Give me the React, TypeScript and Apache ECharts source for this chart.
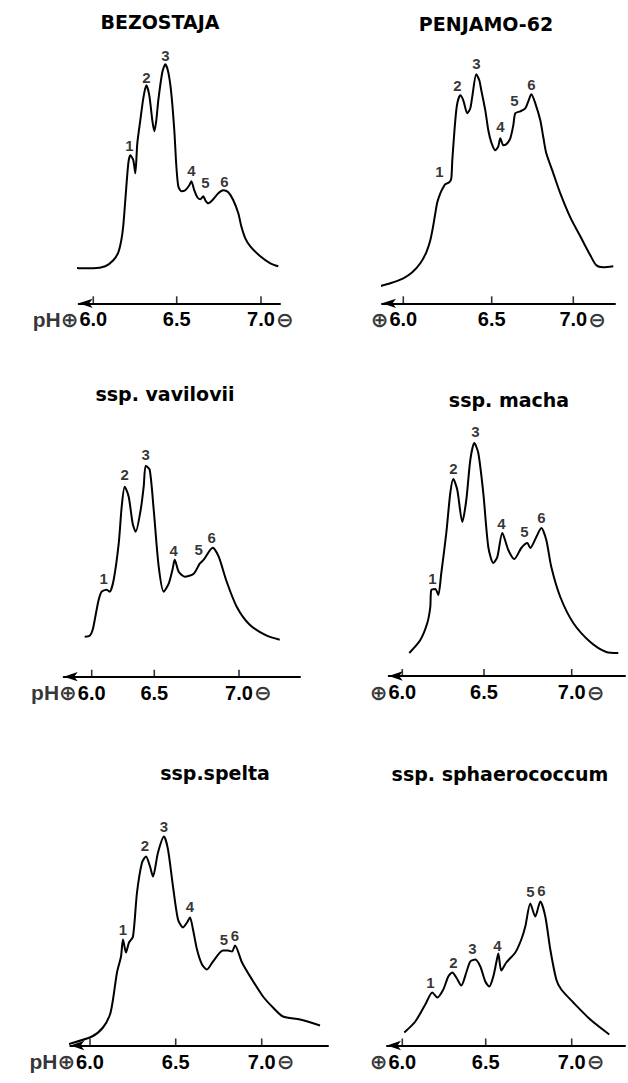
import React, { useEffect, useRef } from 'react';
import * as echarts from 'echarts';

// Titles, tick labels and peak names
const panelTitles = ['BEZOSTAJA', 'PENJAMO-62', 'ssp. vavilovii', 'ssp. macha', 'ssp.spelta', 'ssp. sphaerococcum'];
const tickLabels = ['6.0', '6.5', '7.0'];
const peakNames = ['1', '2', '3', '4', '5', '6'];
const anodeLabelLeft = 'pH⊕';
const anodeLabelRight = '⊕';
const cathodeLabel = '⊖';

// Scan position (a.u., relative to the pH 6.0 marker) of the pH markers 6.0 / 6.5 / 7.0
const bezMarkers = [0, 83.4, 167.7];
const penMarkers = [0, 88.4, 170];
const vavMarkers = [0, 62.6, 147.3];
const machaMarkers = [0, 81.7, 169.4];
const speltaMarkers = [0, 85.7, 171.7];
const sphaeroMarkers = [0, 83.4, 169.4];

// Densitometer traces: [scan position, absorbance (a.u.)]
const bezTrace = [[-27, 37], [-13, 35], [0, 35], [12, 37], [20, 43], [25, 51], [28, 63], [30, 78], [32, 103], [35, 140], [37, 148], [40, 143], [42, 130], [44, 160], [47, 183], [50, 205], [53, 218], [56, 208], [59, 183], [61, 172], [63, 183], [65, 203], [69, 231], [72, 239], [75, 231], [78, 210], [81, 173], [83, 138], [85, 117], [88, 112], [92, 113], [96, 118], [98, 122], [101, 113], [104, 106], [107, 104], [110, 107], [112, 103], [115, 100], [119, 103], [125, 110], [130, 113], [135, 111], [140, 103], [145, 90], [148, 77], [152, 65], [157, 57], [167, 47], [177, 40], [185, 37]];
const penTrace = [[-24, 17], [-13, 20], [0, 25], [9, 31], [17, 40], [23, 51], [27, 63], [30, 78], [32, 90], [34, 101], [37, 110], [40, 116], [42, 119], [46, 121], [48, 125], [49, 143], [52, 183], [54, 200], [57, 208], [60, 203], [64, 190], [67, 195], [69, 207], [73, 229], [76, 223], [78, 213], [82, 193], [85, 173], [88, 161], [92, 153], [95, 157], [97, 165], [100, 158], [103, 159], [107, 165], [110, 178], [112, 190], [117, 192], [122, 195], [125, 202], [128, 209], [132, 200], [137, 183], [140, 166], [143, 150], [150, 130], [157, 110], [167, 86], [177, 67], [187, 48], [193, 38], [200, 36], [210, 37]];
const vavTrace = [[-7, 40], [-2, 41], [1, 47], [4, 62], [7, 77], [10, 85], [15, 87], [18, 85], [22, 97], [27, 133], [30, 170], [33, 190], [37, 180], [41, 153], [44, 145], [49, 167], [52, 190], [54, 211], [58, 207], [62, 167], [67, 110], [72, 85], [77, 93], [81, 108], [83, 117], [87, 105], [93, 100], [102, 103], [108, 113], [112, 117], [121, 129], [127, 120], [135, 95], [145, 70], [158, 52], [175, 41], [188, 37]];
const machaTrace = [[7, 23], [18, 36], [25, 53], [28, 69], [29, 86], [33, 87], [36, 81], [39, 103], [44, 143], [48, 183], [51, 197], [55, 186], [60, 154], [64, 176], [68, 216], [72, 233], [76, 223], [81, 183], [86, 129], [91, 113], [95, 119], [100, 143], [106, 126], [112, 117], [119, 128], [125, 133], [128, 128], [134, 139], [139, 148], [144, 136], [149, 109], [158, 79], [171, 53], [188, 34], [204, 24], [216, 23]];
const speltaTrace = [[-23, 1], [2, 9], [13, 18], [20, 31], [23, 46], [27, 73], [31, 89], [33, 106], [36, 93], [39, 103], [43, 109], [47, 153], [52, 183], [56, 189], [60, 179], [63, 169], [68, 193], [74, 209], [78, 196], [83, 159], [88, 126], [93, 118], [97, 123], [100, 128], [103, 116], [107, 96], [112, 81], [117, 76], [123, 84], [133, 95], [138, 95], [142, 94], [145, 100], [152, 83], [162, 66], [173, 49], [183, 38], [193, 29], [210, 26], [230, 20]];
const sphaeroTrace = [[2, 13], [13, 24], [23, 41], [30, 53], [35, 48], [41, 56], [46, 69], [50, 73], [54, 68], [59, 60], [64, 73], [68, 84], [73, 86], [78, 79], [83, 64], [87, 59], [91, 69], [94, 83], [96, 92], [99, 75], [104, 83], [113, 93], [119, 106], [123, 119], [128, 142], [133, 129], [138, 144], [143, 129], [148, 96], [154, 66], [159, 56], [171, 43], [188, 26], [207, 11]];

// Peak number label positions [scan position, absorbance]
const bezPeaks = [[36, 158], [53, 226], [72, 248], [98, 133], [112, 121], [131, 122]];
const penPeaks = [[36, 132], [54, 218], [73, 240], [97, 177], [111, 203], [128, 219]];
const vavPeaks = [[12, 98], [33, 202], [54, 222], [82, 126], [107, 127], [120, 139]];
const machaPeaks = [[30, 98], [51, 208], [73, 245], [99, 153], [122, 145], [139, 159]];
const speltaPeaks = [[33, 116], [55, 200], [74, 219], [100, 139], [134, 106], [145, 110]];
const sphaeroPeaks = [[28, 63], [51, 83], [70, 97], [95, 100], [128, 154], [139, 155]];

const panelData = [
  { trace: bezTrace, peaks: bezPeaks, markers: bezMarkers },
  { trace: penTrace, peaks: penPeaks, markers: penMarkers },
  { trace: vavTrace, peaks: vavPeaks, markers: vavMarkers },
  { trace: machaTrace, peaks: machaPeaks, markers: machaMarkers },
  { trace: speltaTrace, peaks: speltaPeaks, markers: speltaMarkers },
  { trace: sphaeroTrace, peaks: sphaeroPeaks, markers: sphaeroMarkers },
];

// Layout (pixels) and axis extents
const layouts = [
  { left: 78.7, top: 43.3, width: 201.3, xMin: -14.6, xMax: 186.7, tx: 160, ty: 21.5, ph: true },
  { left: 382, top: 43.3, width: 233, xMin: -21.3, xMax: 211.7, tx: 486, ty: 24, ph: false },
  { left: 63.7, top: 416.7, width: 236.3, xMin: -28, xMax: 208.3, tx: 165, ty: 394, ph: true },
  { left: 388.7, top: 416, width: 236.3, xMin: -13.6, xMax: 222.7, tx: 509, ty: 400, ph: false },
  { left: 70.3, top: 785.5, width: 257.7, xMin: -19.7, xMax: 238, tx: 215, ty: 773, ph: true },
  { left: 387, top: 785.5, width: 238, xMin: -15.3, xMax: 222.7, tx: 500, ty: 773.5, ph: false },
];
const GRID_H = 260;
const LABEL_DY = 16;

const LABEL_FONT = '"Liberation Sans", "DejaVu Sans", sans-serif';
const TITLE_FONT = '"DejaVu Sans", sans-serif';

export default function App() {
  const ref = useRef<HTMLDivElement>(null);

  useEffect(() => {
    document.body.style.margin = '0';
    if (!ref.current) return;
    const chart = echarts.init(ref.current, null, { renderer: 'svg' });

    const grids: any[] = [];
    const xAxes: any[] = [];
    const yAxes: any[] = [];
    const series: any[] = [];
    const graphics: any[] = [];

    const labelFont = { color: '#000', fontFamily: LABEL_FONT, fontSize: 20, fontWeight: 'bold' };

    panelData.forEach((p, i) => {
      const L = layouts[i];
      grids.push({ left: L.left, top: L.top, width: L.width, height: GRID_H, containLabel: false });
      xAxes.push({
        type: 'value',
        gridIndex: i,
        min: L.xMin,
        max: L.xMax,
        axisLine: {
          show: true,
          onZero: false,
          symbol: ['arrow', 'none'],
          symbolSize: [7, 14],
          lineStyle: { color: '#000', width: 2 },
        },
        axisTick: { show: false },
        axisLabel: {
          show: true,
          customValues: p.markers,
          showMinLabel: true,
          showMaxLabel: true,
          hideOverlap: false,
          margin: 6,
          ...labelFont,
          formatter: (val: number) => {
            const idx = p.markers.findIndex((m) => Math.abs(m - val) < 0.01);
            return idx < 0 ? '' : tickLabels[idx];
          },
        },
        splitLine: { show: false },
      });
      yAxes.push({
        type: 'value',
        gridIndex: i,
        min: 0,
        max: GRID_H,
        show: false,
        splitLine: { show: false },
      });
      series.push({
        type: 'line',
        xAxisIndex: i,
        yAxisIndex: i,
        data: p.trace,
        smooth: 0.25,
        symbol: 'none',
        showSymbol: false,
        clip: false,
        lineStyle: { color: '#000', width: 2 },
        silent: true,
      });
      // pH marker ticks on the scan axis
      series.push({
        type: 'scatter',
        xAxisIndex: i,
        yAxisIndex: i,
        symbol: 'rect',
        symbolSize: [1.6, 7],
        symbolOffset: [0, -3.5],
        itemStyle: { color: '#000' },
        clip: false,
        silent: true,
        data: p.markers.map((m) => [m, 0]),
      });
      // electrode signs next to the first and last marker labels
      series.push({
        type: 'scatter',
        xAxisIndex: i,
        yAxisIndex: i,
        symbolSize: 1,
        itemStyle: { color: 'transparent' },
        clip: false,
        silent: true,
        data: [
          {
            value: [p.markers[0], 0],
            name: L.ph ? anodeLabelLeft : anodeLabelRight,
            label: { align: 'right', offset: [-15, LABEL_DY] },
          },
          {
            value: [p.markers[2], 0],
            name: cathodeLabel,
            label: { align: 'left', offset: [15, LABEL_DY] },
          },
        ],
        label: {
          show: true,
          position: 'inside',
          verticalAlign: 'middle',
          formatter: (d: any) => d.name,
          color: '#000',
          fontFamily: LABEL_FONT,
          fontSize: 21,
          fontWeight: 'bold',
        },
      });
      series.push({
        type: 'scatter',
        xAxisIndex: i,
        yAxisIndex: i,
        symbolSize: 1,
        itemStyle: { color: 'transparent' },
        clip: false,
        silent: true,
        data: p.peaks.map((pt, k) => ({ value: pt, name: peakNames[k] })),
        label: {
          show: true,
          position: 'inside',
          formatter: (d: any) => d.name,
          color: '#000',
          fontFamily: LABEL_FONT,
          fontSize: 15,
          fontWeight: 'bold',
        },
      });
      graphics.push({
        type: 'text',
        x: L.tx,
        y: L.ty,
        style: {
          text: panelTitles[i],
          fill: '#000',
          font: `bold 19px ${TITLE_FONT}`,
          align: 'center',
          verticalAlign: 'middle',
          textAlign: 'center',
          textVerticalAlign: 'middle',
        },
      });
    });

    chart.setOption({
      animation: false,
      backgroundColor: '#fff',
      grid: grids,
      xAxis: xAxes,
      yAxis: yAxes,
      series,
      graphic: graphics,
    });

    return () => {
      chart.dispose();
    };
  }, []);

  return <div ref={ref} style={{ width: '628px', height: '1083px' }} />;
}
